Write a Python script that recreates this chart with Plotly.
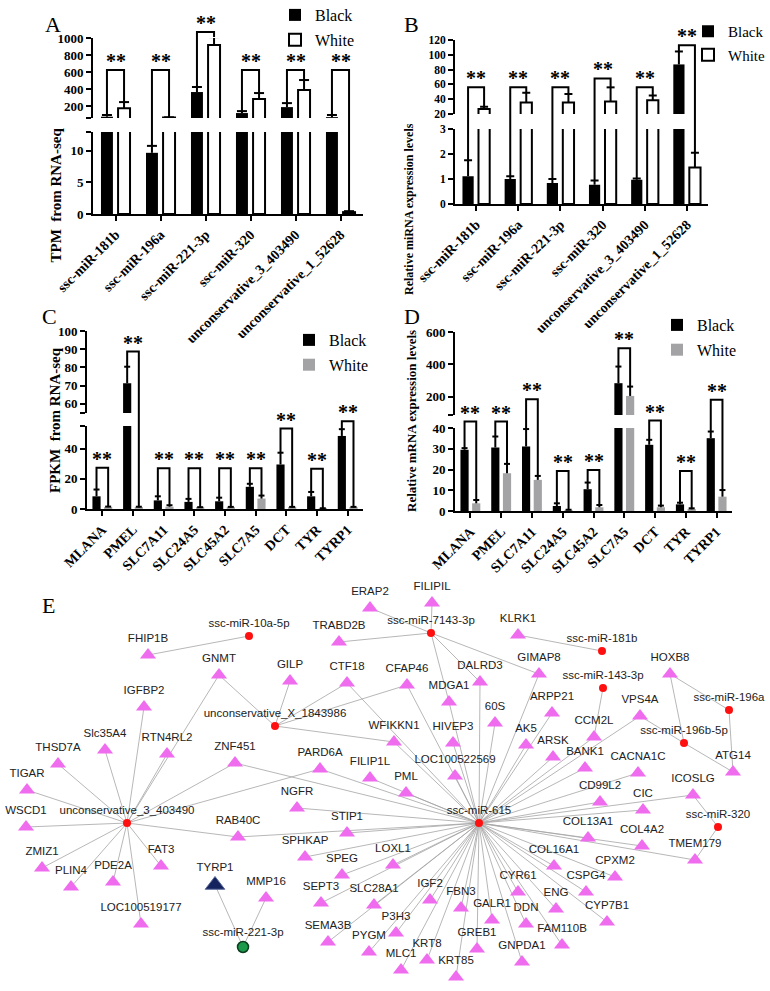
import plotly.graph_objects as go

W, H = 770, 991
SERIF = 'Liberation Serif'
SANS = 'Liberation Sans'
BARGAP = 0.24

# ---------------- data: bar panels ----------------
mirna_labels = ['ssc-miR-181b', 'ssc-miR-196a', 'ssc-miR-221-3p', 'ssc-miR-320',
                'unconservative_3_403490', 'unconservative_1_52628']
tpm_black = [75, 9.7, 365, 118, 188, 70]
tpm_black_err = [20, 1.1, 59, 23, 47, 25]
tpm_white = [176, 65, 918, 282, 388, 0.3]
tpm_white_err = [71, 3, 93, 71, 118, 0.15]
tpm_sig = [624, 624, 1070, 624, 624, 624]

rel_mirna_black = [1.11, 1.0, 0.84, 0.77, 0.97, 87]
rel_mirna_black_err = [0.64, 0.11, 0.16, 0.17, 0.05, 17.5]
rel_mirna_white = [26.6, 35.5, 35.5, 37, 38.5, 1.46]
rel_mirna_white_err = [3.2, 13.2, 11.5, 19, 6.5, 0.59]
rel_mirna_sig = [56, 56, 56, 68, 56, 113]

gene_labels = ['MLANA', 'PMEL', 'SLC7A11', 'SLC24A5', 'SLC45A2', 'SLC7A5', 'DCT', 'TYR', 'TYRP1']
fpkm_black = [8.4, 71.3, 5.7, 4.7, 5.1, 14.7, 29.5, 8.4, 48.4]
fpkm_black_err = [4.5, 9.1, 2.7, 2.0, 2.4, 2.0, 7.8, 2.9, 4.5]
fpkm_white = [1.2, 1.0, 1.5, 0.8, 1.0, 6.9, 1.0, 0.3, 1.0]
fpkm_white_err = [0.4, 0.5, 1.0, 0.4, 0.4, 2.0, 0.4, 0.2, 0.4]
fpkm_sig = [27.3, 88.7, 27, 27, 27, 27, 53.3, 26.7, 58.2]

rel_gene_black = [29.5, 30.6, 31.1, 2.4, 10.5, 283, 31.9, 3.2, 35.1]
rel_gene_black_err = [0.8, 5.3, 8.4, 1.3, 3.2, 103, 2.4, 0.8, 3.2]
rel_gene_white = [3.7, 18.2, 15.0, 0.4, 1.8, 204, 1.8, 0.8, 6.9]
rel_gene_white_err = [1.6, 4.5, 1.9, 0.2, 1.1, 58, 0.8, 0.5, 3.2]
rel_gene_sig = [43.1, 43.1, 184, 19.3, 19.8, 500, 43.6, 19.3, 180]

# ---------------- data: network ----------------
gene_nodes = ['FHIP1B', 'GNMT', 'GILP', 'IGFBP2', 'Slc35A4', 'RTN4RL2', 'ZNF451', 'THSD7A', 'TIGAR',
              'WSCD1', 'RAB40C', 'ZMIZ1', 'PLIN4', 'PDE2A', 'FAT3', 'MMP16', 'LOC100519177',
              'ERAP2', 'FILIPIL', 'TRABD2B', 'CTF18', 'CFAP46', 'DALRD3', 'MDGA1', '60S', 'WFIKKN1',
              'HIVEP3', 'KLRK1', 'GIMAP8', 'HOXB8', 'ARPP21', 'VPS4A', 'CCM2L', 'AK5', 'ARSK', 'BANK1',
              'CACNA1C', 'ATG14', 'ICOSLG', 'CD99L2', 'CIC', 'COL13A1', 'COL4A2', 'TMEM179', 'COL16A1',
              'CPXM2', 'CYR61', 'CSPG4', 'ENG', 'CYP7B1', 'DDN', 'FAM110B', 'GNPDA1', 'GALR1', 'PARD6A',
              'FILIP1L', 'LOC100522569', 'PML', 'NGFR', 'STIP1', 'SPHKAP', 'LOXL1', 'SPEG', 'SEPT3',
              'SLC28A1', 'IGF2', 'FBN3', 'P3H3', 'SEMA3B', 'PYGM', 'KRT8', 'GREB1', 'MLC1', 'KRT85']
gene_x = [148, 219, 290, 144, 105, 167, 235, 58, 27,
          26, 238, 42, 71, 113, 161, 266, 141,
          370, 432, 339, 347, 407, 480, 449, 495, 394,
          453, 518, 539, 670, 552, 640, 594, 526, 553, 585,
          638, 733, 693, 600, 643, 588, 642, 695, 554,
          615, 518, 586, 556, 607, 526, 562, 522, 492, 320,
          370, 455, 406, 297, 347, 305, 393, 342, 321,
          374, 430, 461, 396, 328, 369, 427, 477, 401, 456]
gene_y = [655, 675, 681, 707, 750, 754, 763, 764, 790,
          827, 837, 868, 887, 882, 866, 898, 924,
          608, 603, 642, 683, 685, 682, 702, 723, 742,
          743, 635, 674, 674, 713, 716, 737, 745, 757, 768,
          773, 772, 795, 802, 810, 838, 846, 860, 866,
          877, 892, 892, 909, 922, 924, 945, 962, 920, 769,
          778, 776, 793, 808, 833, 857, 865, 875, 903,
          905, 900, 908, 933, 942, 952, 960, 949, 970, 977]

mirna_nodes = ['ssc-miR-10a-5p', 'ssc-miR-7143-3p', 'ssc-miR-181b', 'ssc-miR-143-3p', 'ssc-miR-196a',
               'ssc-miR-196b-5p', 'ssc-miR-320', 'unconservative_X_1843986', 'unconservative_3_403490',
               'ssc-miR-615']
mirna_x = [249, 431, 602, 603, 729, 684, 718, 275, 127, 479]
mirna_y = [636, 633, 651, 688, 710, 743, 827, 726, 823, 823]

target_gene = ['TYRP1']
target_x = [215]
target_y = [885]
key_mirna = ['ssc-miR-221-3p']
key_x = [243]
key_y = [947]

edges = {
    'ssc-miR-10a-5p': ['FHIP1B'],
    'ssc-miR-7143-3p': ['ERAP2', 'FILIPIL', 'TRABD2B', 'MDGA1', 'DALRD3', 'GIMAP8'],
    'ssc-miR-181b': ['KLRK1'],
    'ssc-miR-143-3p': ['CCM2L'],
    'ssc-miR-196a': ['HOXB8', 'ATG14'],
    'ssc-miR-196b-5p': ['HOXB8', 'VPS4A', 'ATG14'],
    'ssc-miR-320': ['ICOSLG', 'TMEM179'],
    'ssc-miR-221-3p': ['TYRP1', 'MMP16'],
    'unconservative_X_1843986': ['GNMT', 'GILP', 'CTF18', 'CFAP46', 'WFIKKN1'],
    'unconservative_3_403490': ['IGFBP2', 'Slc35A4', 'RTN4RL2', 'GNMT', 'THSD7A', 'TIGAR', 'WSCD1',
                                'ZMIZ1', 'PLIN4', 'PDE2A', 'LOC100519177', 'FAT3', 'RAB40C', 'ZNF451',
                                'PARD6A'],
    'ssc-miR-615': ['CTF18', 'CFAP46', 'WFIKKN1', 'MDGA1', 'DALRD3', '60S', 'HIVEP3', 'GIMAP8',
                    'LOC100522569', 'ARPP21', 'AK5', 'ARSK', 'VPS4A', 'CCM2L', 'BANK1', 'CACNA1C',
                    'CD99L2', 'CIC', 'ICOSLG', 'COL13A1', 'COL4A2', 'TMEM179', 'COL16A1', 'CPXM2',
                    'CSPG4', 'CYP7B1', 'ENG', 'FAM110B', 'DDN', 'GNPDA1', 'CYR61', 'GALR1', 'GREB1',
                    'KRT85', 'KRT8', 'MLC1', 'FBN3', 'IGF2', 'P3H3', 'PYGM', 'SEMA3B', 'SLC28A1',
                    'SEPT3', 'SPEG', 'LOXL1', 'SPHKAP', 'STIP1', 'NGFR', 'RAB40C', 'PML', 'FILIP1L',
                    'PARD6A', 'ZNF451'],
}

fig = go.Figure()
layout = dict(width=W, height=H, margin=dict(l=0, r=0, t=0, b=0, autoexpand=False),
              paper_bgcolor='white', plot_bgcolor='rgba(0,0,0,0)',
              barmode='group', bargap=BARGAP, bargroupgap=0.3, showlegend=True)
annotations = []

TICKFONT = dict(family=SERIF, size=13, color='black', weight='bold')
XTICKFONT = dict(family=SERIF, size=14, color='black', weight='bold')
# full-figure overlay in pixel units (brackets that cross the axis break + network)
OVL = dict(xaxis='x5', yaxis='y9', showlegend=False, hoverinfo='skip')


def yaxis_style(domain_px, anchor, rng, ticks, font):
    vals, text = ticks
    return dict(domain=[1 - domain_px[1] / H, 1 - domain_px[0] / H], anchor=anchor, range=list(rng),
                tickvals=vals, ticktext=text, showline=True, linewidth=2, linecolor='black',
                ticks='outside', ticklen=5, tickwidth=2, tickcolor='black', showgrid=False,
                zeroline=False, tickfont=font, automargin=False)


def add_panel(k, cats, black, black_err, white, white_err, sig, x_px, lo_px, lo_rng, lo_ticks,
              up_px, up_rng, up_ticks, white_color, white_line, leg_px, leg_size, cap_px,
              ytickfont=TICKFONT):
    xname = 'x' if k == 1 else f'x{k}'
    ylo = 'y' if k == 1 else f'y{2 * k - 1}'
    yup = f'y{2 * k}'
    leg = 'legend' if k == 1 else f'legend{k}'
    n = len(cats)
    xs = list(range(n))
    off = (1 - BARGAP) / 4
    cap = cap_px * n / (x_px[1] - x_px[0])

    for yname in (ylo, yup):
        show = yname == ylo
        fig.add_trace(go.Bar(x=xs, y=black, name='Black', xaxis=xname, yaxis=yname,
                             marker=dict(color='black', line=dict(width=0)),
                             legend=leg, legendgroup=leg + 'k', showlegend=show, hoverinfo='skip'))
        fig.add_trace(go.Bar(x=xs, y=white, name='White', xaxis=xname, yaxis=yname,
                             marker=dict(color=white_color, line=dict(color='black', width=white_line)),
                             legend=leg, legendgroup=leg + 'w', showlegend=show, hoverinfo='skip'))
        ex, ey = [], []
        for vals, errs, dx in ((black, black_err, -off), (white, white_err, off)):
            for i, (v, e) in enumerate(zip(vals, errs)):
                xc = i + dx
                ex += [xc, xc, None, xc - cap, xc + cap, None]
                ey += [v, v + e, None, v + e, v + e, None]
        fig.add_trace(go.Scatter(x=ex, y=ey, mode='lines', xaxis=xname, yaxis=yname,
                                 line=dict(color='black', width=2), showlegend=False, hoverinfo='skip'))

    # value -> pixel, following the broken axis scales
    lo_ppu = (lo_px[1] - lo_px[0]) / (lo_rng[1] - lo_rng[0])
    up_ppu = (up_px[1] - up_px[0]) / (up_rng[1] - up_rng[0])
    gap_top = lo_rng[1] + (lo_px[0] - up_px[1]) / lo_ppu

    def ypx(v):
        if v <= gap_top:
            return lo_px[1] - (v - lo_rng[0]) * lo_ppu
        return up_px[1] - (v - up_rng[0]) * up_ppu

    def xpx(xv):
        return x_px[0] + (xv + 0.5) * (x_px[1] - x_px[0]) / n

    bx, by = [], []
    for i, lvl in enumerate(sig):
        xl, xr = xpx(i - off), xpx(i + off)
        yl, yr, yt = ypx(black[i] + black_err[i]), ypx(white[i] + white_err[i]), ypx(lvl)
        bx += [xl, xl, xr, xr, None]
        by += [yl, yt, yt, yr, None]
        annotations.append(dict(x=xpx(i), y=yt, xref='x5', yref='y9', text='**', showarrow=False,
                                yanchor='bottom', yshift=-4,
                                font=dict(family=SERIF, size=20, color='black', weight='bold')))
    fig.add_trace(go.Scatter(x=bx, y=by, mode='lines', line=dict(color='black', width=2), **OVL))

    layout['xaxis' if k == 1 else f'xaxis{k}'] = dict(
        domain=[x_px[0] / W, x_px[1] / W], anchor=ylo, range=[-0.5, n - 0.5],
        tickvals=xs, ticktext=cats, tickangle=-45, showline=True, linewidth=2, linecolor='black',
        ticks='outside', ticklen=5, tickwidth=2, tickcolor='black', showgrid=False, zeroline=False,
        tickfont=XTICKFONT, automargin=False)
    layout['yaxis' if k == 1 else f'yaxis{2 * k - 1}'] = yaxis_style(lo_px, xname, lo_rng, lo_ticks, ytickfont)
    layout[f'yaxis{2 * k}'] = yaxis_style(up_px, xname, up_rng, up_ticks, ytickfont)
    layout[leg] = dict(x=(leg_px[0] - 20) / W, y=1 - (leg_px[1] - 17) / H, xanchor='left', yanchor='top',
                       bgcolor='rgba(0,0,0,0)', tracegroupgap=1,
                       font=dict(family=SERIF, size=leg_size, color='black'))


add_panel(1, mirna_labels, tpm_black, tpm_black_err, tpm_white, tpm_white_err, tpm_sig,
          (93, 363), (132, 214), (0, 13), ([0, 5, 10, 13], ['0', '5', '10', '']),
          (38, 118), (60, 1000), ([60, 200, 400, 600, 800, 1000], ['', '200', '400', '600', '800', '1000']),
          'white', 2, (295, 15), 16, 5)
add_panel(2, mirna_labels, rel_mirna_black, rel_mirna_black_err, rel_mirna_white, rel_mirna_white_err,
          rel_mirna_sig, (455, 708), (129, 204), (0, 3), ([0, 1, 2, 3], ['0', '1', '2', '3']),
          (40, 114), (20, 120), ([20, 40, 60, 80, 100, 120], ['20', '40', '60', '80', '100', '120']),
          'white', 2, (708, 32), 15, 4,
          ytickfont=dict(family=SERIF, size=11.5, color='black', weight='bold'))
add_panel(3, gene_labels, fpkm_black, fpkm_black_err, fpkm_white, fpkm_white_err, fpkm_sig,
          (87, 363), (426, 509), (0, 55), ([0, 20, 40, 55], ['0', '20', '40', '']),
          (331, 413), (55, 100), ([55, 60, 70, 80, 90, 100], ['', '60', '70', '80', '90', '100']),
          '#a3a3a5', 0, (309, 340), 16, 3)
add_panel(4, gene_labels, rel_gene_black, rel_gene_black_err, rel_gene_white, rel_gene_white_err,
          rel_gene_sig, (455, 732), (428, 511), (0, 40), ([0, 10, 20, 30, 40], ['0', '10', '20', '30', '40']),
          (332, 415), (86, 600), ([86, 200, 400, 600], ['', '200', '400', '600']),
          '#a3a3a5', 0, (677, 325), 16, 3)

# panel letters and y titles
for letter, px, py in (('A', 43, 10), ('B', 411, 10), ('C', 40, 302), ('D', 412, 302), ('E', 40, 605)):
    annotations.append(dict(x=px / W, y=1 - py / H, xref='paper', yref='paper', text=letter,
                            showarrow=False, font=dict(family=SERIF, size=22, color='black')))
for title, px, py, size in (('TPM  from RNA-seq', 45, 126, 15),
                            ('Relative miRNA expression levels', 409, 121, 12),
                            ('FPKM  from RNA-seq', 45, 420, 15),
                            ('Relative mRNA expression levels', 411, 421, 13)):
    annotations.append(dict(x=px / W, y=1 - py / H, xref='paper', yref='paper', text=title,
                            textangle=-90, showarrow=False,
                            font=dict(family=SERIF, size=size, color='black', weight='bold')))

# ---------------- network (panel E) ----------------
pos = {}
for names, xs_, ys_ in ((gene_nodes, gene_x, gene_y), (mirna_nodes, mirna_x, mirna_y),
                        (target_gene, target_x, target_y), (key_mirna, key_x, key_y)):
    for nm, a, b in zip(names, xs_, ys_):
        pos[nm] = (a, b)

lx, ly = [], []
for src, tgts in edges.items():
    for t in tgts:
        lx += [pos[src][0], pos[t][0], None]
        ly += [pos[src][1], pos[t][1], None]

fig.add_trace(go.Scatter(x=lx, y=ly, mode='lines', line=dict(color='#a4a4a4', width=0.8), **OVL))
label_font = dict(family=SANS, size=11.5, color='#222222')
fig.add_trace(go.Scatter(x=gene_x, y=gene_y, text=gene_nodes, mode='markers+text', textposition='top center',
                         marker=dict(symbol='triangle-up', size=14, color='#ef6cef', line=dict(width=0)),
                         textfont=label_font, cliponaxis=False, **OVL))
fig.add_trace(go.Scatter(x=mirna_x, y=mirna_y, text=mirna_nodes, mode='markers+text', textposition='top center',
                         marker=dict(symbol='circle', size=8, color='#ff1010', line=dict(width=0)),
                         textfont=label_font, cliponaxis=False, **OVL))
fig.add_trace(go.Scatter(x=target_x, y=target_y, text=target_gene, mode='markers+text', textposition='top center',
                         marker=dict(symbol='triangle-up', size=17, color='#14235e', line=dict(color='#5a6a9a', width=1)),
                         textfont=label_font, cliponaxis=False, **OVL))
fig.add_trace(go.Scatter(x=key_x, y=key_y, text=key_mirna, mode='markers+text', textposition='top center',
                         marker=dict(symbol='circle', size=11, color='#1a9a4a', line=dict(color='#0b3d1e', width=1.5)),
                         textfont=label_font, cliponaxis=False, **OVL))

layout['xaxis5'] = dict(domain=[0, 1], anchor='y9', range=[0, W], visible=False, automargin=False)
layout['yaxis9'] = dict(domain=[0, 1], anchor='x5', range=[H, 0], visible=False, automargin=False)
layout['annotations'] = annotations

fig.update_layout(**layout)
fig.write_html('out.html', config={'displayModeBar': False},
               post_script="document.body.style.margin = '0px';")
